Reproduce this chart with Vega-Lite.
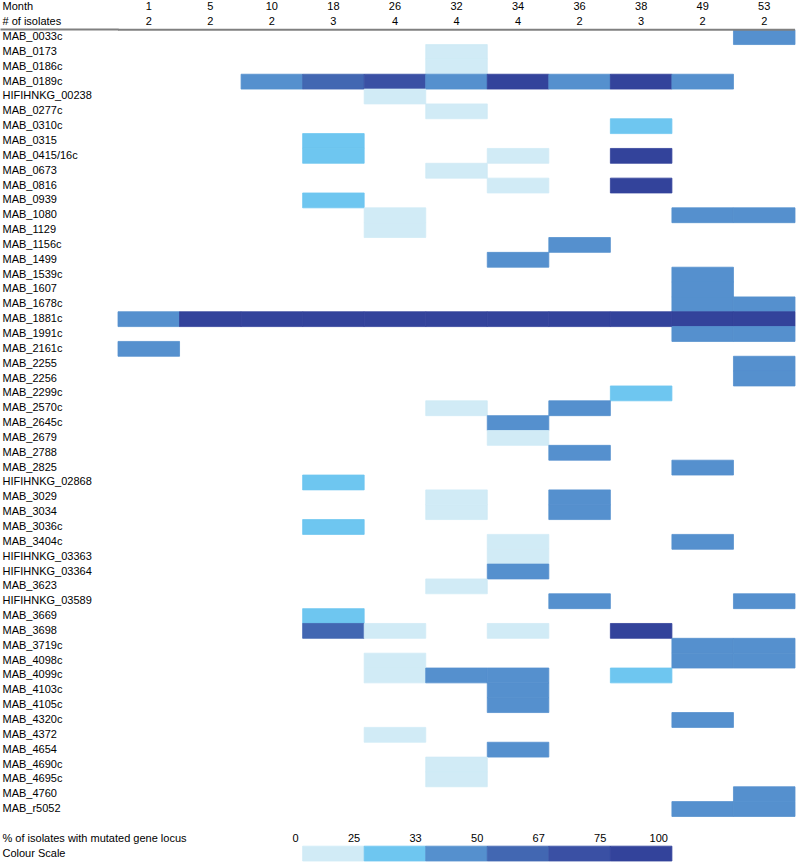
{
  "$schema": "https://vega.github.io/schema/vega-lite/v6.json",
  "width": 677,
  "height": 861,
  "autosize": {"type": "none"},
  "padding": {"left": 118, "top": 0, "right": 5, "bottom": 4},
  "background": "white",
  "view": {"stroke": null},
  "config": {"font": "Liberation Sans", "text": {"font": "Liberation Sans", "fontSize": 11, "color": "black"}},
  "datasets": {
    "cells": [
      {"gene": "MAB_0033c", "month": 53, "pct": 50},
      {"gene": "MAB_0173", "month": 32, "pct": 25},
      {"gene": "MAB_0186c", "month": 32, "pct": 25},
      {"gene": "MAB_0189c", "month": 10, "pct": 50},
      {"gene": "MAB_0189c", "month": 18, "pct": 67},
      {"gene": "MAB_0189c", "month": 26, "pct": 75},
      {"gene": "MAB_0189c", "month": 32, "pct": 50},
      {"gene": "MAB_0189c", "month": 34, "pct": 100},
      {"gene": "MAB_0189c", "month": 36, "pct": 50},
      {"gene": "MAB_0189c", "month": 38, "pct": 100},
      {"gene": "MAB_0189c", "month": 49, "pct": 50},
      {"gene": "HIFIHNKG_00238", "month": 26, "pct": 25},
      {"gene": "MAB_0277c", "month": 32, "pct": 25},
      {"gene": "MAB_0310c", "month": 38, "pct": 33},
      {"gene": "MAB_0315", "month": 18, "pct": 33},
      {"gene": "MAB_0415/16c", "month": 18, "pct": 33},
      {"gene": "MAB_0415/16c", "month": 34, "pct": 25},
      {"gene": "MAB_0415/16c", "month": 38, "pct": 100},
      {"gene": "MAB_0673", "month": 32, "pct": 25},
      {"gene": "MAB_0816", "month": 34, "pct": 25},
      {"gene": "MAB_0816", "month": 38, "pct": 100},
      {"gene": "MAB_0939", "month": 18, "pct": 33},
      {"gene": "MAB_1080", "month": 26, "pct": 25},
      {"gene": "MAB_1080", "month": 49, "pct": 50},
      {"gene": "MAB_1080", "month": 53, "pct": 50},
      {"gene": "MAB_1129", "month": 26, "pct": 25},
      {"gene": "MAB_1156c", "month": 36, "pct": 50},
      {"gene": "MAB_1499", "month": 34, "pct": 50},
      {"gene": "MAB_1539c", "month": 49, "pct": 50},
      {"gene": "MAB_1607", "month": 49, "pct": 50},
      {"gene": "MAB_1678c", "month": 49, "pct": 50},
      {"gene": "MAB_1678c", "month": 53, "pct": 50},
      {"gene": "MAB_1881c", "month": 1, "pct": 50},
      {"gene": "MAB_1881c", "month": 5, "pct": 100},
      {"gene": "MAB_1881c", "month": 10, "pct": 100},
      {"gene": "MAB_1881c", "month": 18, "pct": 100},
      {"gene": "MAB_1881c", "month": 26, "pct": 100},
      {"gene": "MAB_1881c", "month": 32, "pct": 100},
      {"gene": "MAB_1881c", "month": 34, "pct": 100},
      {"gene": "MAB_1881c", "month": 36, "pct": 100},
      {"gene": "MAB_1881c", "month": 38, "pct": 100},
      {"gene": "MAB_1881c", "month": 49, "pct": 100},
      {"gene": "MAB_1881c", "month": 53, "pct": 100},
      {"gene": "MAB_1991c", "month": 49, "pct": 50},
      {"gene": "MAB_1991c", "month": 53, "pct": 50},
      {"gene": "MAB_2161c", "month": 1, "pct": 50},
      {"gene": "MAB_2255", "month": 53, "pct": 50},
      {"gene": "MAB_2256", "month": 53, "pct": 50},
      {"gene": "MAB_2299c", "month": 38, "pct": 33},
      {"gene": "MAB_2570c", "month": 32, "pct": 25},
      {"gene": "MAB_2570c", "month": 36, "pct": 50},
      {"gene": "MAB_2645c", "month": 34, "pct": 50},
      {"gene": "MAB_2679", "month": 34, "pct": 25},
      {"gene": "MAB_2788", "month": 36, "pct": 50},
      {"gene": "MAB_2825", "month": 49, "pct": 50},
      {"gene": "HIFIHNKG_02868", "month": 18, "pct": 33},
      {"gene": "MAB_3029", "month": 32, "pct": 25},
      {"gene": "MAB_3029", "month": 36, "pct": 50},
      {"gene": "MAB_3034", "month": 32, "pct": 25},
      {"gene": "MAB_3034", "month": 36, "pct": 50},
      {"gene": "MAB_3036c", "month": 18, "pct": 33},
      {"gene": "MAB_3404c", "month": 34, "pct": 25},
      {"gene": "MAB_3404c", "month": 49, "pct": 50},
      {"gene": "HIFIHNKG_03363", "month": 34, "pct": 25},
      {"gene": "HIFIHNKG_03364", "month": 34, "pct": 50},
      {"gene": "MAB_3623", "month": 32, "pct": 25},
      {"gene": "HIFIHNKG_03589", "month": 36, "pct": 50},
      {"gene": "HIFIHNKG_03589", "month": 53, "pct": 50},
      {"gene": "MAB_3669", "month": 18, "pct": 33},
      {"gene": "MAB_3698", "month": 18, "pct": 67},
      {"gene": "MAB_3698", "month": 26, "pct": 25},
      {"gene": "MAB_3698", "month": 34, "pct": 25},
      {"gene": "MAB_3698", "month": 38, "pct": 100},
      {"gene": "MAB_3719c", "month": 49, "pct": 50},
      {"gene": "MAB_3719c", "month": 53, "pct": 50},
      {"gene": "MAB_4098c", "month": 26, "pct": 25},
      {"gene": "MAB_4098c", "month": 49, "pct": 50},
      {"gene": "MAB_4098c", "month": 53, "pct": 50},
      {"gene": "MAB_4099c", "month": 26, "pct": 25},
      {"gene": "MAB_4099c", "month": 32, "pct": 50},
      {"gene": "MAB_4099c", "month": 34, "pct": 50},
      {"gene": "MAB_4099c", "month": 38, "pct": 33},
      {"gene": "MAB_4103c", "month": 34, "pct": 50},
      {"gene": "MAB_4105c", "month": 34, "pct": 50},
      {"gene": "MAB_4320c", "month": 49, "pct": 50},
      {"gene": "MAB_4372", "month": 26, "pct": 25},
      {"gene": "MAB_4654", "month": 34, "pct": 50},
      {"gene": "MAB_4690c", "month": 32, "pct": 25},
      {"gene": "MAB_4695c", "month": 32, "pct": 25},
      {"gene": "MAB_4760", "month": 53, "pct": 50},
      {"gene": "MAB_r5052", "month": 49, "pct": 50},
      {"gene": "MAB_r5052", "month": 53, "pct": 50}
    ],
    "header": [
      {"row": "Month", "month": 1, "label": "1"},
      {"row": "Month", "month": 5, "label": "5"},
      {"row": "Month", "month": 10, "label": "10"},
      {"row": "Month", "month": 18, "label": "18"},
      {"row": "Month", "month": 26, "label": "26"},
      {"row": "Month", "month": 32, "label": "32"},
      {"row": "Month", "month": 34, "label": "34"},
      {"row": "Month", "month": 36, "label": "36"},
      {"row": "Month", "month": 38, "label": "38"},
      {"row": "Month", "month": 49, "label": "49"},
      {"row": "Month", "month": 53, "label": "53"},
      {"row": "# of isolates", "month": 1, "label": "2"},
      {"row": "# of isolates", "month": 5, "label": "2"},
      {"row": "# of isolates", "month": 10, "label": "2"},
      {"row": "# of isolates", "month": 18, "label": "3"},
      {"row": "# of isolates", "month": 26, "label": "4"},
      {"row": "# of isolates", "month": 32, "label": "4"},
      {"row": "# of isolates", "month": 34, "label": "4"},
      {"row": "# of isolates", "month": 36, "label": "2"},
      {"row": "# of isolates", "month": 38, "label": "3"},
      {"row": "# of isolates", "month": 49, "label": "2"},
      {"row": "# of isolates", "month": 53, "label": "2"}
    ],
    "scale": [
      {"row": "Colour Scale", "month": 18, "pct": 25},
      {"row": "Colour Scale", "month": 26, "pct": 33},
      {"row": "Colour Scale", "month": 32, "pct": 50},
      {"row": "Colour Scale", "month": 34, "pct": 67},
      {"row": "Colour Scale", "month": 36, "pct": 75},
      {"row": "Colour Scale", "month": 38, "pct": 100}
    ],
    "scaleLabels": [
      {"row": "% of isolates with mutated gene locus", "month": 18, "label": "0"},
      {"row": "% of isolates with mutated gene locus", "month": 26, "label": "25"},
      {"row": "% of isolates with mutated gene locus", "month": 32, "label": "33"},
      {"row": "% of isolates with mutated gene locus", "month": 34, "label": "50"},
      {"row": "% of isolates with mutated gene locus", "month": 36, "label": "67"},
      {"row": "% of isolates with mutated gene locus", "month": 38, "label": "75"},
      {"row": "% of isolates with mutated gene locus", "month": 49, "label": "100"}
    ],
    "sep": [{"row": "MAB_0033c"}]
  },
  "layer": [
    {
      "data": {"name": "cells"},
      "mark": {"type": "rect", "strokeWidth": 0.8},
      "encoding": {
        "x": {"field": "month", "type": "ordinal", "title": null, "axis": null,
          "scale": {"domain": [1, 5, 10, 18, 26, 32, 34, 36, 38, 49, 53], "paddingInner": 0, "paddingOuter": 0}},
        "y": {"field": "gene", "type": "nominal", "title": null,
          "scale": {"paddingInner": 0, "paddingOuter": 0, "domain": [
            "Month", "# of isolates",
            "MAB_0033c", "MAB_0173", "MAB_0186c", "MAB_0189c", "HIFIHNKG_00238", "MAB_0277c", "MAB_0310c", "MAB_0315", "MAB_0415/16c", "MAB_0673",
            "MAB_0816", "MAB_0939", "MAB_1080", "MAB_1129", "MAB_1156c", "MAB_1499", "MAB_1539c", "MAB_1607", "MAB_1678c", "MAB_1881c",
            "MAB_1991c", "MAB_2161c", "MAB_2255", "MAB_2256", "MAB_2299c", "MAB_2570c", "MAB_2645c", "MAB_2679", "MAB_2788", "MAB_2825",
            "HIFIHNKG_02868", "MAB_3029", "MAB_3034", "MAB_3036c", "MAB_3404c", "HIFIHNKG_03363", "HIFIHNKG_03364", "MAB_3623", "HIFIHNKG_03589", "MAB_3669",
            "MAB_3698", "MAB_3719c", "MAB_4098c", "MAB_4099c", "MAB_4103c", "MAB_4105c", "MAB_4320c", "MAB_4372", "MAB_4654", "MAB_4690c",
            "MAB_4695c", "MAB_4760", "MAB_r5052",
            " ", "% of isolates with mutated gene locus", "Colour Scale"]},
          "axis": {"orient": "left", "domain": false, "ticks": false, "tickSize": 0, "grid": false,
            "labelAlign": "left", "labelPadding": 116, "labelFont": "Liberation Sans", "labelFontSize": 11,
            "labelColor": "black", "labelLimit": 400, "labelOverlap": false, "labelBound": false}},
        "color": {"field": "pct", "type": "ordinal", "legend": null,
          "scale": {"domain": [25, 33, 50, 67, 75, 100], "range": ["#d1ebf6", "#6ec6f0", "#5590ce", "#4267b2", "#3a50a4", "#33439b"]}},
        "stroke": {"field": "pct", "type": "ordinal", "legend": null,
          "scale": {"domain": [25, 33, 50, 67, 75, 100], "range": ["#d1ebf6", "#6ec6f0", "#5590ce", "#4267b2", "#3a50a4", "#33439b"]}}
      }
    },
    {
      "data": {"name": "scale"},
      "mark": {"type": "rect", "strokeWidth": 0.8},
      "encoding": {
        "x": {"field": "month", "type": "ordinal"},
        "y": {"field": "row", "type": "nominal", "axis": null},
        "color": {"field": "pct", "type": "ordinal", "legend": null},
        "stroke": {"field": "pct", "type": "ordinal", "legend": null}
      }
    },
    {
      "data": {"name": "header"},
      "mark": {"type": "text", "align": "center", "baseline": "middle", "fontSize": 11},
      "encoding": {
        "x": {"field": "month", "type": "ordinal"},
        "y": {"field": "row", "type": "nominal", "axis": null},
        "text": {"field": "label"}
      }
    },
    {
      "data": {"name": "scaleLabels"},
      "mark": {"type": "text", "align": "right", "baseline": "middle", "fontSize": 11, "dx": -4},
      "encoding": {
        "x": {"field": "month", "type": "ordinal", "bandPosition": 0},
        "y": {"field": "row", "type": "nominal", "axis": null},
        "text": {"field": "label"}
      }
    },
    {
      "data": {"name": "sep"},
      "mark": {"type": "rule", "color": "#808080", "strokeWidth": 2},
      "encoding": {
        "y": {"field": "row", "type": "nominal", "bandPosition": 0,
          "axis": {"orient": "left", "values": ["MAB_0033c"], "bandPosition": 0, "labels": false, "domain": false,
            "ticks": true, "tickSize": 118, "tickWidth": 2, "tickColor": "#808080", "grid": false, "title": null}}
      }
    }
  ],
  "resolve": {"axis": {"y": "independent"}}
}
